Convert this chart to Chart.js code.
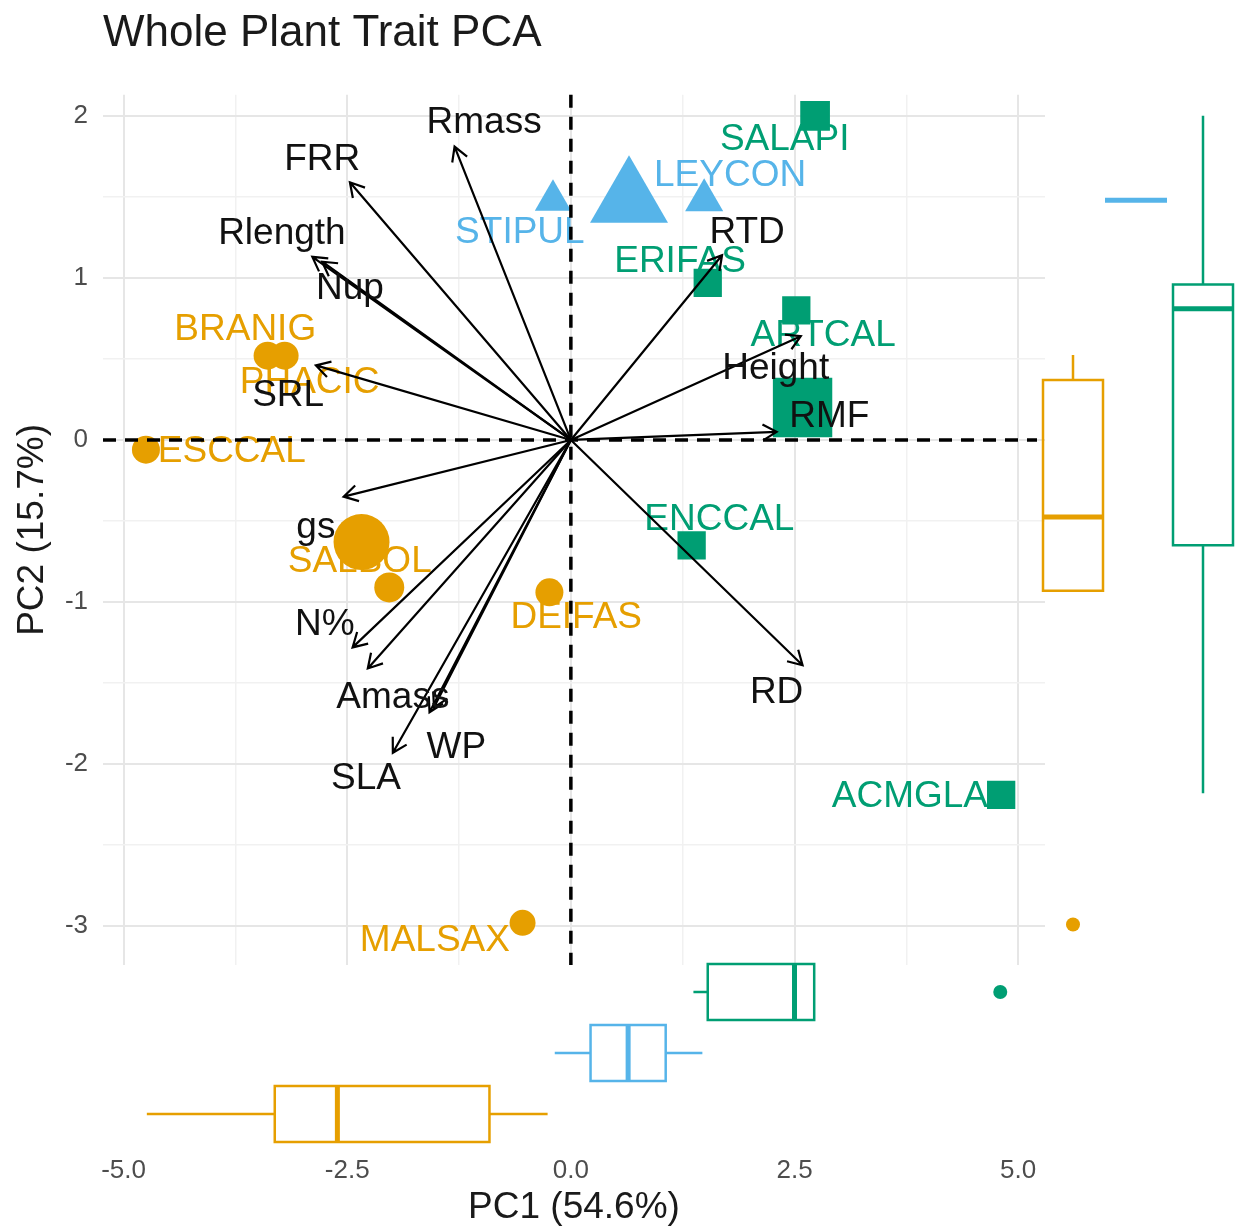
<!DOCTYPE html>
<html>
<head>
<meta charset="utf-8">
<script src="https://cdn.jsdelivr.net/npm/chart.js@4.4.0/dist/chart.umd.min.js"></script>
<style>
  html, body { margin: 0; padding: 0; background: #fff; }
  canvas { display: block; }
</style>
</head>
<body>
<canvas id="pca" width="1236" height="1230"></canvas>
<script>
// ============================================
// Whole Plant Trait PCA — biplot + marginal boxplots
// ============================================

// axis ticks
const pc1Ticks = [-5, -3.75, -2.5, -1.25, 0, 1.25, 2.5, 3.75, 5];
const pc1TickLabels = ['-5.0', '', '-2.5', '', '0.0', '', '2.5', '', '5.0'];
const pc2Ticks = [-3, -2.5, -2, -1.5, -1, -0.5, 0, 0.5, 1, 1.5, 2];
const pc2TickLabels = ['-3', '', '-2', '', '-1', '', '0', '', '1', '', '2'];

// species scores — orange group (circles)
const orangeNames = ['ESCCAL', 'BRANIG', 'PHACIC', 'SALBOL', '', 'DEIFAS', 'MALSAX'];
const orangePC1 = [-4.75, -3.39, -3.20, -2.34, -2.03, -0.24, -0.54];
const orangePC2 = [-0.06, 0.52, 0.52, -0.63, -0.91, -0.94, -2.98];
const orangeLabelPC1 = [-3.79, -3.64, -2.92, -2.36, null, 0.06, -1.52];
const orangeLabelPC2 = [-0.07, 0.68, 0.35, -0.75, null, -1.10, -3.09];
const orangeSize = [14, 14, 14, 28, 15, 14, 13];

// blue group (triangles)
const blueNames = ['STIPUL', '', 'LEYCON'];
const bluePC1 = [-0.20, 0.65, 1.49];
const bluePC2 = [1.48, 1.48, 1.48];
const blueLabelPC1 = [-0.57, null, 1.78];
const blueLabelPC2 = [1.28, null, 1.63];
const blueSize = [21, 45, 22];

// green group (squares)
const greenNames = ['SALAPI', 'ERIFAS', 'ARTCAL', '', 'ENCCAL', 'ACMGLA'];
const greenPC1 = [2.73, 1.53, 2.52, 2.59, 1.35, 4.81];
const greenPC2 = [2.00, 0.97, 0.80, 0.20, -0.65, -2.19];
const greenLabelPC1 = [2.39, 1.22, 2.82, null, 1.66, 3.79];
const greenLabelPC2 = [1.85, 1.10, 0.64, null, -0.49, -2.20];
const greenSize = [21, 20, 20, 42, 20, 20];

// trait loadings (arrow tips) and label spots
const traitNames = ['Rmass', 'FRR', 'Rlength', 'Nup', 'SRL', 'gs', 'N%', 'Amass', 'WP', '', 'SLA', 'RD', 'RMF', 'Height', 'RTD'];
const traitPC1 = [-1.30, -2.47, -2.89, -2.78, -2.85, -2.54, -2.44, -2.27, -1.58, -1.53, -1.99, 2.59, 2.30, 2.57, 1.69];
const traitPC2 = [1.81, 1.59, 1.13, 1.10, 0.46, -0.35, -1.28, -1.41, -1.68, -1.65, -1.93, -1.39, 0.05, 0.64, 1.14];
const traitLabelPC1 = [-0.97, -2.78, -3.23, -2.47, -3.16, -2.85, -2.75, -1.99, -1.28, null, -2.29, 2.30, 2.89, 2.29, 1.97];
const traitLabelPC2 = [1.96, 1.73, 1.27, 0.93, 0.27, -0.54, -1.14, -1.59, -1.90, null, -2.09, -1.56, 0.14, 0.44, 1.28];

// marginal boxplots: [min, q1, median, q3, max]
const orangeBoxPC1 = [-4.74, -3.31, -2.61, -0.91, -0.26];
const orangeOutPC1 = [];
const blueBoxPC1 = [-0.18, 0.22, 0.64, 1.06, 1.47];
const blueOutPC1 = [];
const greenBoxPC1 = [1.37, 1.53, 2.50, 2.72, 2.72];
const greenOutPC1 = [4.80];

const orangeBoxPC2 = [-0.93, -0.93, -0.475, 0.37, 0.525];
const orangeOutPC2 = [-2.99];
const blueBoxPC2 = [1.48, 1.48, 1.48, 1.48, 1.48];
const blueOutPC2 = [];
const greenBoxPC2 = [-2.18, -0.65, 0.81, 0.96, 2.00];
const greenOutPC2 = [];

const ORANGE = '#E69F00';
const BLUE = '#56B4E9';
const GREEN = '#009E73';

Chart.defaults.font.family = '"Liberation Sans", Arial, Helvetica, sans-serif';

const groups = [
  { color: ORANGE, style: 'circle',   names: orangeNames, pc1: orangePC1, pc2: orangePC2, lx: orangeLabelPC1, ly: orangeLabelPC2, size: orangeSize },
  { color: BLUE,   style: 'triangle', names: blueNames,   pc1: bluePC1,   pc2: bluePC2,   lx: blueLabelPC1,   ly: blueLabelPC2,   size: blueSize },
  { color: GREEN,  style: 'rect',     names: greenNames,  pc1: greenPC1,  pc2: greenPC2,  lx: greenLabelPC1,  ly: greenLabelPC2,  size: greenSize },
];

function drawArrow(ctx, x0, y0, x1, y1) {
  const a = Math.atan2(y1 - y0, x1 - x0), h = 16, w = Math.PI / 6;
  ctx.beginPath();
  ctx.moveTo(x0, y0);
  ctx.lineTo(x1, y1);
  ctx.moveTo(x1 - h * Math.cos(a - w), y1 - h * Math.sin(a - w));
  ctx.lineTo(x1, y1);
  ctx.lineTo(x1 - h * Math.cos(a + w), y1 - h * Math.sin(a + w));
  ctx.stroke();
}

// horizontal box along PC1, centred at pixel row yc
function boxAlongX(ctx, xs, yc, half, stats, outliers, color) {
  const [mn, q1, md, q3, mx] = stats.map(v => xs.getPixelForValue(v));
  ctx.strokeStyle = color;
  ctx.lineWidth = 2.5;
  ctx.beginPath();
  if (mn < q1) { ctx.moveTo(mn, yc); ctx.lineTo(q1, yc); }
  if (mx > q3) { ctx.moveTo(q3, yc); ctx.lineTo(mx, yc); }
  ctx.rect(q1, yc - half, q3 - q1, 2 * half);
  ctx.stroke();
  ctx.lineWidth = 5;
  ctx.beginPath(); ctx.moveTo(md, yc - half); ctx.lineTo(md, yc + half); ctx.stroke();
  ctx.fillStyle = color;
  outliers.forEach(v => { ctx.beginPath(); ctx.arc(xs.getPixelForValue(v), yc, 7, 0, Math.PI * 2); ctx.fill(); });
}

// vertical box along PC2, centred at pixel column xc
function boxAlongY(ctx, ys, xc, half, stats, outliers, color) {
  const [mn, q1, md, q3, mx] = stats.map(v => ys.getPixelForValue(v));
  ctx.strokeStyle = color;
  ctx.lineWidth = 2.5;
  ctx.beginPath();
  if (mn > q1) { ctx.moveTo(xc, mn); ctx.lineTo(xc, q1); }
  if (mx < q3) { ctx.moveTo(xc, q3); ctx.lineTo(xc, mx); }
  ctx.rect(xc - half, q3, 2 * half, q1 - q3);
  ctx.stroke();
  ctx.lineWidth = 5;
  ctx.beginPath(); ctx.moveTo(xc - half, md); ctx.lineTo(xc + half, md); ctx.stroke();
  ctx.fillStyle = color;
  outliers.forEach(v => { ctx.beginPath(); ctx.arc(xc, ys.getPixelForValue(v), 7, 0, Math.PI * 2); ctx.fill(); });
}

const pcaLayers = {
  id: 'pcaLayers',
  beforeDatasetsDraw(chart) {
    const { ctx, scales: { x, y } } = chart;
    ctx.save();
    ctx.font = '37px "Liberation Sans", Arial, sans-serif';
    ctx.textAlign = 'center';
    ctx.textBaseline = 'middle';
    groups.forEach(g => {
      ctx.fillStyle = g.color;
      g.names.forEach((n, i) => {
        if (!n || g.lx[i] === null) return;
        ctx.fillText(n, x.getPixelForValue(g.lx[i]), y.getPixelForValue(g.ly[i]));
      });
    });
    ctx.restore();
  },
  afterDatasetsDraw(chart) {
    const { ctx, chartArea: a, scales: { x, y } } = chart;
    const ox = x.getPixelForValue(0), oy = y.getPixelForValue(0);
    ctx.save();
    // zero reference lines
    ctx.strokeStyle = '#000';
    ctx.lineWidth = 3.5;
    ctx.setLineDash([13, 9]);
    ctx.beginPath();
    ctx.moveTo(a.left, oy); ctx.lineTo(a.right - 8, oy);
    ctx.moveTo(ox, a.top); ctx.lineTo(ox, a.bottom);
    ctx.stroke();
    ctx.setLineDash([]);
    // loading arrows
    ctx.lineWidth = 2.2;
    traitPC1.forEach((v, i) => drawArrow(ctx, ox, oy, x.getPixelForValue(v), y.getPixelForValue(traitPC2[i])));
    // trait labels
    ctx.fillStyle = '#111';
    ctx.font = '37px "Liberation Sans", Arial, sans-serif';
    ctx.textAlign = 'center';
    ctx.textBaseline = 'middle';
    traitNames.forEach((n, i) => {
      if (!n) return;
      ctx.fillText(n, x.getPixelForValue(traitLabelPC1[i]), y.getPixelForValue(traitLabelPC2[i]));
    });
    ctx.restore();
  },
  afterDraw(chart) {
    const { ctx, chartArea: a, scales: { x, y } } = chart;
    ctx.save();
    // bottom marginal boxes (PC1)
    boxAlongX(ctx, x, a.bottom + 27, 28, greenBoxPC1, greenOutPC1, GREEN);
    boxAlongX(ctx, x, a.bottom + 88, 28, blueBoxPC1, blueOutPC1, BLUE);
    boxAlongX(ctx, x, a.bottom + 149, 28, orangeBoxPC1, orangeOutPC1, ORANGE);
    // right marginal boxes (PC2)
    boxAlongY(ctx, y, a.right + 28, 30, orangeBoxPC2, orangeOutPC2, ORANGE);
    boxAlongY(ctx, y, a.right + 91, 31, blueBoxPC2, blueOutPC2, BLUE);
    boxAlongY(ctx, y, a.right + 158, 30, greenBoxPC2, greenOutPC2, GREEN);
    ctx.restore();
  }
};

const gridColor = c => (c.index % 2 ? '#f1f1f1' : '#e6e6e6');
const gridWidth = c => (c.index % 2 ? 1.5 : 2);

new Chart(document.getElementById('pca'), {
  type: 'scatter',
  data: {
    datasets: groups.map(g => ({
      data: g.pc1.map((v, i) => ({ x: v, y: g.pc2[i] })),
      pointStyle: g.style,
      pointRadius: g.size,
      pointHoverRadius: g.size,
      pointBackgroundColor: g.color,
      pointBorderWidth: 0,
      showLine: false,
    })),
  },
  options: {
    responsive: false,
    animation: false,
    devicePixelRatio: 1,
    layout: { padding: { left: 0, right: 191, top: 0, bottom: 0 } },
    plugins: {
      legend: { display: false },
      tooltip: { enabled: false },
      title: {
        display: true,
        text: 'Whole Plant Trait PCA',
        align: 'start',
        fullSize: false,
        color: '#1a1a1a',
        font: { size: 44, weight: 'normal' },
        padding: { top: 7, bottom: 35 },
      },
    },
    scales: {
      x: {
        type: 'linear',
        min: -5.23,
        max: 5.30,
        afterBuildTicks: s => { s.ticks = pc1Ticks.map(v => ({ value: v })); },
        // room under the panel for the PC1 boxplots
        afterFit: s => { s.height = 265; s.paddingLeft = 0; s.paddingRight = 0; },
        ticks: {
          callback: (v, i) => pc1TickLabels[i],
          autoSkip: false, maxRotation: 0,
          padding: 190,
          color: '#4d4d4d',
          font: { size: 26 },
        },
        grid: { drawTicks: false, color: gridColor, lineWidth: gridWidth },
        border: { display: false },
        title: { display: true, text: 'PC1 (54.6%)', color: '#1a1a1a', font: { size: 37 }, padding: { top: 0, bottom: 0 } },
      },
      y: {
        type: 'linear',
        min: -3.24,
        max: 2.13,
        afterBuildTicks: s => { s.ticks = pc2Ticks.map(v => ({ value: v })); },
        afterFit: s => { s.width = 103; },
        ticks: {
          callback: (v, i) => pc2TickLabels[i],
          autoSkip: false,
          padding: 15,
          color: '#4d4d4d',
          font: { size: 26 },
        },
        grid: { drawTicks: false, color: gridColor, lineWidth: gridWidth },
        border: { display: false },
        title: { display: true, text: 'PC2 (15.7%)', color: '#1a1a1a', font: { size: 37 }, padding: { top: 11, bottom: 9 } },
      },
    },
  },
  plugins: [pcaLayers],
});
</script>
</body>
</html>
